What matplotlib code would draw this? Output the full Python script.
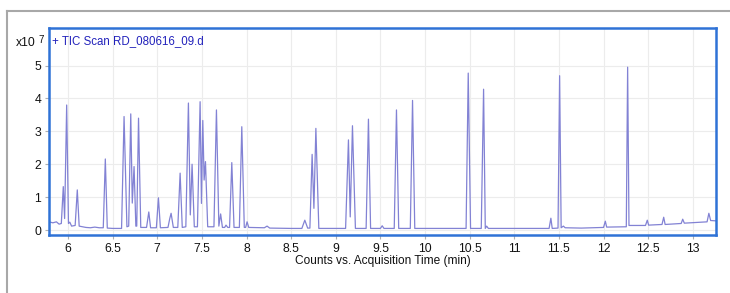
import matplotlib
matplotlib.use("Agg")
import matplotlib.pyplot as plt
from matplotlib.lines import Line2D

# ---- data (counts in units of 1e7) ----
trace_time = [5.787, 5.83, 5.87, 5.90, 5.925, 5.947, 5.962, 5.985, 6.005, 6.02, 6.04, 6.08,
              6.104, 6.125, 6.2, 6.25, 6.3, 6.35, 6.395, 6.418, 6.44, 6.5, 6.60, 6.628,
              6.66, 6.68, 6.703, 6.72, 6.74, 6.76, 6.77, 6.79, 6.815, 6.88, 6.905, 6.925,
              6.99, 7.013, 7.035, 7.12, 7.14, 7.155, 7.18, 7.23, 7.256, 7.28, 7.32, 7.349,
              7.37, 7.39, 7.415, 7.45, 7.48, 7.495, 7.51, 7.525, 7.54, 7.565, 7.635, 7.663,
              7.69, 7.71, 7.73, 7.755, 7.77, 7.79, 7.81, 7.835, 7.86, 7.92, 7.947, 7.975,
              7.99, 8.006, 8.025, 8.2, 8.23, 8.26, 8.5, 8.62, 8.653, 8.685, 8.71, 8.735,
              8.755, 8.777, 8.81, 9.11, 9.142, 9.162, 9.187, 9.22, 9.34, 9.366, 9.39, 9.50,
              9.52, 9.54, 9.655, 9.68, 9.705, 9.835, 9.86, 9.885, 10.46, 10.484, 10.51,
              10.63, 10.656, 10.675, 10.69, 10.71, 11.39, 11.41, 11.425, 11.49, 11.508,
              11.525, 11.55, 11.57, 11.75, 12.0, 12.02, 12.035, 12.255, 12.27, 12.285,
              12.47, 12.49, 12.505, 12.655, 12.674, 12.69, 12.87, 12.887, 12.905, 13.16,
              13.18, 13.20, 13.26]
trace_counts = [0.25, 0.22, 0.25, 0.18, 0.20, 1.32, 0.35, 3.80, 0.20, 0.24, 0.12, 0.14,
                1.22, 0.12, 0.08, 0.07, 0.09, 0.07, 0.07, 2.16, 0.06, 0.05, 0.05, 3.45,
                0.10, 0.12, 3.53, 0.82, 1.93, 0.12, 0.12, 3.40, 0.08, 0.08, 0.55, 0.07,
                0.07, 0.98, 0.07, 0.08, 0.35, 0.51, 0.08, 0.08, 1.73, 0.08, 0.10, 3.86,
                0.46, 2.00, 0.10, 0.10, 3.90, 0.81, 3.33, 1.52, 2.08, 0.10, 0.10, 3.65,
                0.12, 0.49, 0.08, 0.08, 0.15, 0.08, 0.08, 2.05, 0.08, 0.08, 3.14, 0.08,
                0.08, 0.25, 0.08, 0.07, 0.12, 0.06, 0.05, 0.05, 0.30, 0.06, 0.06, 2.30,
                0.66, 3.09, 0.05, 0.05, 2.74, 0.40, 3.17, 0.05, 0.05, 3.37, 0.05, 0.05,
                0.13, 0.05, 0.05, 3.65, 0.05, 0.05, 3.94, 0.05, 0.05, 4.77, 0.05,
                0.05, 4.28, 0.05, 0.12, 0.05, 0.05, 0.36, 0.05, 0.06, 4.69,
                0.07, 0.12, 0.07, 0.06, 0.08, 0.27, 0.09, 0.10, 4.95, 0.14,
                0.14, 0.30, 0.15, 0.17, 0.39, 0.17, 0.20, 0.33, 0.21, 0.25,
                0.51, 0.29, 0.28]

x_ticks = [6, 6.5, 7, 7.5, 8, 8.5, 9, 9.5, 10, 10.5, 11, 11.5, 12, 12.5, 13]
x_tick_labels = ["6", "6.5", "7", "7.5", "8", "8.5", "9", "9.5", "10", "10.5",
                 "11", "11.5", "12", "12.5", "13"]
y_ticks = [0, 1, 2, 3, 4, 5]
y_tick_labels = ["0", "1", "2", "3", "4", "5"]

title_text = "+ TIC Scan RD_080616_09.d"
x_label = "Counts vs. Acquisition Time (min)"

plt.rcParams['font.family'] = ['Liberation Sans', 'DejaVu Sans']

W, H = 730, 293
fig = plt.figure(figsize=(W / 100, H / 100), dpi=100)

# outer gray frame (partial window)
fig.add_artist(Line2D([7 / W, 1.0], [1 - 11 / H, 1 - 11 / H], color='#a8a8a8', lw=1.5,
                      transform=fig.transFigure))
fig.add_artist(Line2D([7 / W, 7 / W], [0.0, 1 - 11 / H], color='#a8a8a8', lw=1.5,
                      transform=fig.transFigure))

ax = fig.add_axes([49 / W, 1 - 235 / H, (716 - 49) / W, (235 - 28) / H])
ax.plot(trace_time, trace_counts, color='#8282d4', lw=0.9, solid_joinstyle='round')

ax.set_xlim(5.787, 13.26)
ax.set_ylim(-0.15, 6.14)
ax.set_xticks(x_ticks)
ax.set_xticklabels(x_tick_labels)
ax.set_yticks(y_ticks)
ax.set_yticklabels(y_tick_labels)
ax.grid(True, color='#ececec', lw=0.8)
ax.set_axisbelow(True)
ax.tick_params(axis='both', labelsize=8.8, color='#b0b0b0', length=3, width=0.8,
               pad=2.5, labelcolor='#111111')
for s in ax.spines.values():
    s.set_color('#2f72d6')
    s.set_linewidth(1.8)

ax.set_xlabel(x_label, fontsize=8.6, labelpad=0, color='#111111')
ax.text(0.004, 0.968, title_text, transform=ax.transAxes, ha='left', va='top',
        fontsize=8.3, color='#2222bb')

fig.text(16 / W, 1 - 43 / H, "x10", ha='left', va='center', fontsize=8.8, color='#111111')
fig.text(38 / W, 1 - 40 / H, "7", ha='left', va='center', fontsize=7, color='#111111')

fig.savefig("out.png", dpi=100)
